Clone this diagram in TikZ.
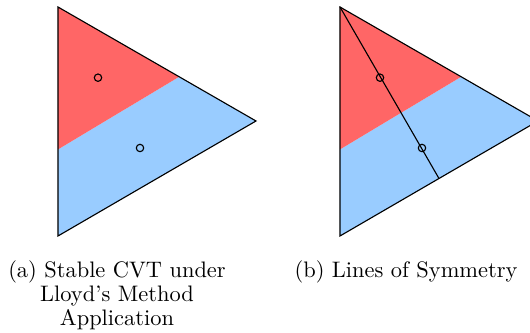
\documentclass[tikz,border=0pt]{standalone}
\usepackage{xcolor}
\usepackage{tikz}
\usetikzlibrary{calc, positioning}
\definecolor{cellred}{RGB}{255,102,102}
\definecolor{cellblue}{RGB}{153,204,255}

\begin{document}
\begin{tikzpicture}[x=0.446pt, y=-0.446pt,
    edge/.style={draw=black, line width=0.5pt},
    gen/.style={draw=black, circle, line width=0.5pt, inner sep=0pt, minimum size=3.3pt},
    capt/.style={align=center, inner sep=0pt, anchor=north, font=\fontsize{10}{10.7}\selectfont}]
    \clip (0,0) rectangle (530,333);

    % (a) stable CVT
    \begin{scope}[shift={(58,7)}]
        \coordinate (aA) at (0,0);
        \coordinate (aB) at (0,229);
        \coordinate (aC) at (198,114);
        \coordinate (aP) at ($(aA)!0.622!(aB)$);
        \coordinate (aQ) at ($(aA)!0.612!(aC)$);
        \fill[cellblue] (aP) -- (aQ) -- (aC) -- (aB) -- cycle;
        \fill[cellred] (aA) -- (aQ) -- (aP) -- cycle;
        \draw[edge] (aA) -- (aB) -- (aC) -- cycle;
        \node[gen] (ga1) at (40,70.7) {};
        \node[gen] (ga2) at (82,141) {};
    \end{scope}

    % (b) lines of symmetry
    \begin{scope}[shift={(340,7)}]
        \coordinate (bA) at (0,0);
        \coordinate (bB) at (0,229);
        \coordinate (bC) at (198,114);
        \coordinate (bP) at ($(bA)!0.622!(bB)$);
        \coordinate (bQ) at ($(bA)!0.612!(bC)$);
        \coordinate (bM) at ($(bB)!0.5!(bC)$);
        \fill[cellblue] (bP) -- (bQ) -- (bC) -- (bB) -- cycle;
        \fill[cellred] (bA) -- (bQ) -- (bP) -- cycle;
        \draw[edge] (bA) -- (bB) -- (bC) -- cycle;
        \draw[edge] (bA) -- (bM);
        \node[gen] (gb1) at (40,70.7) {};
        \node[gen] (gb2) at (82,141) {};
    \end{scope}

    % captions
    \node[capt] (capa) at (117,260) {(a) Stable CVT under\\Lloyd's Method\\Application};
    \node[capt] (capb) at (406,260) {(b) Lines of Symmetry};
\end{tikzpicture}
\end{document}
